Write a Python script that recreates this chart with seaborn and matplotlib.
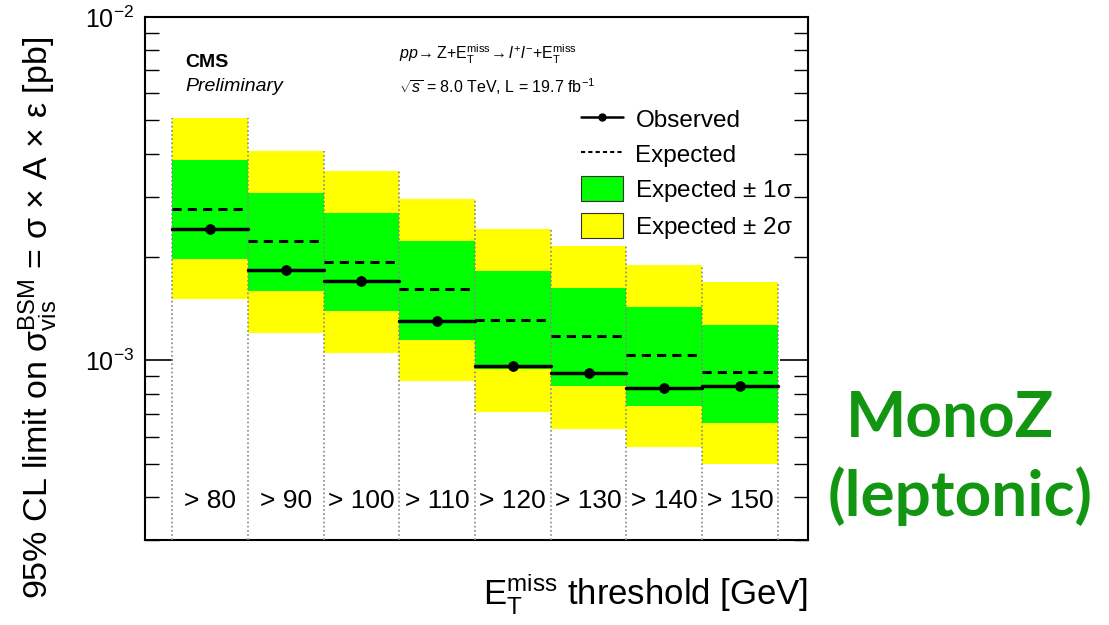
import numpy as np
import pandas as pd
import matplotlib.pyplot as plt
import seaborn as sns

# MET threshold bins and limits (pb)
thresholds = ["> 80", "> 90", "> 100", "> 110", "> 120", "> 130", "> 140", "> 150"]
observed = [2.41e-3, 1.83e-3, 1.70e-3, 1.30e-3, 9.61e-4, 9.17e-4, 8.29e-4, 8.45e-4]
expected = [2.76e-3, 2.22e-3, 1.93e-3, 1.61e-3, 1.31e-3, 1.175e-3, 1.034e-3, 9.23e-4]
exp_1s_up = [3.83e-3, 3.07e-3, 2.68e-3, 2.22e-3, 1.82e-3, 1.62e-3, 1.43e-3, 1.27e-3]
exp_1s_dn = [1.98e-3, 1.59e-3, 1.39e-3, 1.15e-3, 9.41e-4, 8.40e-4, 7.39e-4, 6.59e-4]
exp_2s_up = [5.08e-3, 4.07e-3, 3.56e-3, 2.95e-3, 2.41e-3, 2.16e-3, 1.89e-3, 1.69e-3]
exp_2s_dn = [1.51e-3, 1.20e-3, 1.048e-3, 8.69e-4, 7.10e-4, 6.33e-4, 5.58e-4, 5.01e-4]


def main():
    sns.set_style("ticks")
    plt.rcParams["font.family"] = ["Liberation Sans", "DejaVu Sans"]
    plt.rcParams["mathtext.fontset"] = "custom"
    plt.rcParams["mathtext.rm"] = "Liberation Sans"
    plt.rcParams["mathtext.it"] = "Liberation Sans:italic"
    for key in ("text.color", "axes.labelcolor", "xtick.color", "ytick.color", "axes.edgecolor"):
        plt.rcParams[key] = "black"

    n = len(thresholds)
    centers = np.arange(n) + 0.5

    # long table with both bin edges so each bin is a flat segment
    rows = []
    for i in range(n):
        for edge in (i, i + 1):
            rows.append({"bin": i, "x": edge, "obs": observed[i], "exp": expected[i]})
    seg = pd.DataFrame(rows)
    pts = pd.DataFrame({"x": centers, "obs": observed})

    fig = plt.figure(figsize=(11.09, 6.25), dpi=100)
    ax = fig.add_axes([0.1307, 0.136, 0.5979, 0.8368])

    ax.bar(centers, np.array(exp_2s_up) - np.array(exp_2s_dn), bottom=exp_2s_dn,
           width=1.0, color="#ffff00", linewidth=0, zorder=1)
    ax.bar(centers, np.array(exp_1s_up) - np.array(exp_1s_dn), bottom=exp_1s_dn,
           width=1.0, color="#00ff00", linewidth=0, zorder=2)

    # dotted bin edges, up to the taller of the two neighbouring bands
    edge_tops = [max(exp_2s_up[max(e - 1, 0)], exp_2s_up[min(e, n - 1)]) for e in range(n + 1)]
    ax.vlines(np.arange(n + 1), 3e-4, edge_tops, color="#888888",
              linestyle=(0, (1, 1.5)), linewidth=1.2, zorder=3)

    sns.lineplot(data=seg, x="x", y="exp", units="bin", estimator=None, ax=ax,
                 color="black", linestyle=(0, (3, 2)), linewidth=2.2, zorder=4)
    sns.lineplot(data=seg, x="x", y="obs", units="bin", estimator=None, ax=ax,
                 color="black", linewidth=2.5, zorder=5)
    sns.scatterplot(data=pts, x="x", y="obs", ax=ax, color="black", s=50,
                    edgecolor="black", zorder=6)

    ax.set_yscale("log")
    ax.set_ylim(3e-4, 1e-2)
    ax.set_xlim(-0.36, n + 0.4)

    ax.set_xticks([])
    ax.tick_params(axis="y", which="both", direction="in", left=True, right=True,
                   labelsize=18, pad=8)
    ax.tick_params(axis="y", which="major", length=20, width=1.2)
    ax.tick_params(axis="y", which="minor", length=10, width=1.0)
    ax.set_yticks([1e-3, 1e-2])
    ax.set_yticklabels([r"$10^{-3}$", r"$10^{-2}$"])
    for s in ax.spines.values():
        s.set_linewidth(1.5)
        s.set_visible(True)

    for i, lab in enumerate(thresholds):
        ax.text(centers[i], 3.9e-4, lab, ha="center", va="center", fontsize=19, zorder=7)

    ax.set_xlabel(r"E$_\mathrm{T}^\mathrm{miss}$ threshold [GeV]", fontsize=25, loc="right",
                  labelpad=22)
    ax.set_ylabel("95% CL limit on σ$_\\mathrm{vis}^\\mathrm{BSM}$ = σ × A × ε [pb]",
                  fontsize=24.5)
    ax.yaxis.set_label_coords(-0.128, 0.4245)

    ax.text(0.061, 0.905, "CMS", transform=ax.transAxes, fontsize=14, fontweight="bold")
    ax.text(0.061, 0.858, "Preliminary", transform=ax.transAxes, fontsize=14, style="italic")
    ax.text(0.383, 0.918,
            r"$pp\!\rightarrow$Z+E$_\mathrm{T}^\mathrm{miss}\!\rightarrow$$l^{+}l^{-}$+E$_\mathrm{T}^\mathrm{miss}$",
            transform=ax.transAxes, fontsize=11.5)
    ax.text(0.383, 0.855, r"$\sqrt{s}$ = 8.0 TeV, L = 19.7 fb$^{-1}$",
            transform=ax.transAxes, fontsize=11.5)

    handles = [
        plt.Line2D([], [], color="black", linewidth=1.8, marker="o", markersize=5),
        plt.Line2D([], [], color="black", linewidth=1.5, linestyle=(0, (2, 1.5))),
        plt.Rectangle((0, 0), 1, 1, facecolor="#00ff00", edgecolor="#333333", linewidth=0.8),
        plt.Rectangle((0, 0), 1, 1, facecolor="#ffff00", edgecolor="#333333", linewidth=0.8),
    ]
    ax.legend(handles, ["Observed", "Expected", r"Expected $\pm$ 1σ", r"Expected $\pm$ 2σ"],
              loc="upper right", bbox_to_anchor=(1.0, 0.857), frameon=False, fontsize=17.5,
              handlelength=1.75, handleheight=1.2, handletextpad=0.5,
              labelspacing=0.38, borderaxespad=0.2)

    fig.text(0.857, 0.3008, "MonoZ", ha="center", va="baseline", fontsize=46,
             fontweight="bold", color="#129612", family=["Lato", "DejaVu Sans"])
    fig.text(0.866, 0.175, "(leptonic)", ha="center", va="baseline", fontsize=46,
             fontweight="bold", color="#129612", family=["Lato", "DejaVu Sans"])

    fig.savefig("out.png", dpi=100)
    plt.close(fig)


if __name__ == "__main__":
    main()
